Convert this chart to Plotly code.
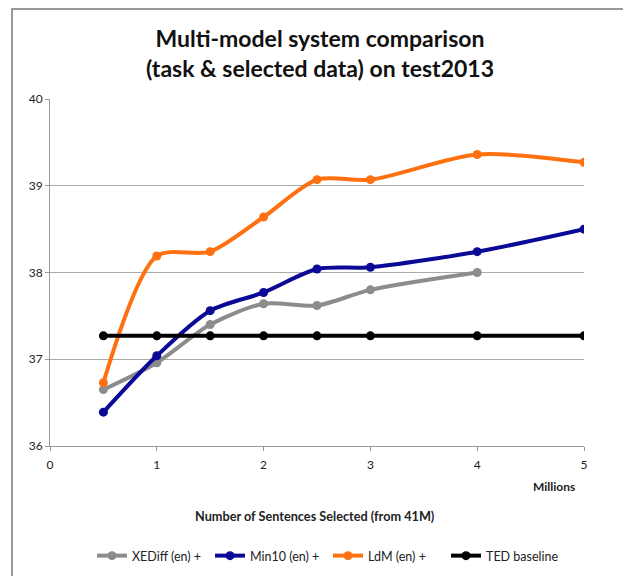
import plotly.graph_objects as go

x_vals = [0.5, 1, 1.5, 2, 2.5, 3, 4, 5]
x_xediff = [0.5, 1, 1.5, 2, 2.5, 3, 4]
xediff = [36.65, 36.96, 37.40, 37.64, 37.62, 37.80, 38.00]
min10 = [36.39, 37.04, 37.56, 37.77, 38.04, 38.06, 38.24, 38.50]
ldm = [36.73, 38.19, 38.24, 38.64, 39.07, 39.07, 39.36, 39.27]
ted = [37.27, 37.27, 37.27, 37.27, 37.27, 37.27, 37.27, 37.27]

series = [
    ("XEDiff (en) +", x_xediff, xediff, "#8c8c8c"),
    ("Min10 (en) +", x_vals, min10, "#0a0a96"),
    ("LdM (en) +", x_vals, ldm, "#ff7010"),
    ("TED baseline", x_vals, ted, "#000000"),
]

FONT = "Lato"
OFF = 8  # page body margin
W, H = 631 - OFF, 576 - OFF
L, T = 50 - OFF, 99 - OFF
R = W - (584 - OFF)
B = H - (446 - OFF)

fig = go.Figure()
for name, xs, ys, col in series:
    fig.add_trace(go.Scatter(
        x=xs, y=ys, name=name, mode="lines+markers",
        line=dict(color=col, width=4, shape="spline", smoothing=0.8),
        marker=dict(color=col, size=9),
    ))

pw = W - L - R
ph = H - T - B
def px2paper_x(px):
    return (px - OFF - L) / pw
def px2paper_y(py):
    return (H - B - (py - OFF)) / ph
def cont_x(px):
    return (px - OFF) / W
def cont_y(py):
    return 1 - (py - OFF) / H

fig.update_layout(
    width=W, height=H,
    margin=dict(l=L, r=R, t=T, b=B, autoexpand=False),
    paper_bgcolor="white", plot_bgcolor="white",
    font=dict(family=FONT, color="#222", size=12),
    title=dict(
        text="<b>Multi-model system comparison<br>(task &amp; selected data) on test2013</b>",
        x=px2paper_x(320), xref="paper", xanchor="center",
        y=cont_y(47), yanchor="middle",
        font=dict(family=FONT, size=23, color="#111"),
    ),
    xaxis=dict(
        range=[0, 5], tickvals=[0, 1, 2, 3, 4, 5], showgrid=False,
        showline=True, linecolor="#999", linewidth=1,
        ticks="outside", ticklen=4, tickcolor="#999",
        ticklabelstandoff=4,
        tickfont=dict(size=12, color="#222"), zeroline=False,
    ),
    yaxis=dict(
        range=[36, 40], tickvals=[36, 37, 38, 39, 40],
        showgrid=True, gridcolor="#aaaaaa", gridwidth=1,
        showline=True, linecolor="#999", linewidth=1,
        ticks="outside", ticklen=4, tickcolor="#999",
        tickfont=dict(size=12, color="#222"), zeroline=False,
    ),
    legend=dict(
        orientation="h", xref="container", yref="container",
        x=cont_x(92), xanchor="left",
        y=cont_y(556), yanchor="middle",
        font=dict(size=12.5, color="#222"), itemwidth=30,
        entrywidth=73, traceorder="normal",
    ),
    showlegend=True,
    annotations=[
        dict(text="<b>Millions</b>", xref="paper", yref="paper",
             x=px2paper_x(577), y=px2paper_y(486), xanchor="right", yanchor="middle",
             showarrow=False, font=dict(size=12, color="#222")),
        dict(text="<b>Number of Sentences Selected (from 41M)</b>", xref="paper", yref="paper",
             x=px2paper_x(315), y=px2paper_y(516), xanchor="center", yanchor="middle",
             showarrow=False, font=dict(size=12.7, color="#222")),
    ],
    shapes=[
        dict(type="rect", xref="paper", yref="paper",
             x0=px2paper_x(12), x1=px2paper_x(627),
             y0=px2paper_y(600), y1=px2paper_y(9),
             line=dict(color="#999", width=2), fillcolor="rgba(0,0,0,0)", layer="below"),
    ],
)

fig.write_html("out.html")
